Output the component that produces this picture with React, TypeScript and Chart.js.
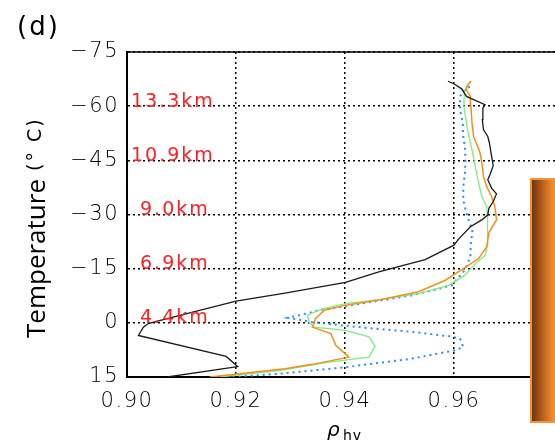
import React, { useEffect, useRef } from 'react';
import { Chart, registerables } from 'chart.js';

Chart.register(...registerables);

// ---- data ----
const xMin = 0.9;
const xMax = 0.98;
const xStep = 0.02;
const xLabelMax = 0.96;
const yMin = -75;
const yMax = 15;
const yStep = 15;

const altitudeLabels = ['13.3km', '10.9km', '9.0km', '6.9km', '4.4km'];
const altitudeTemps = [-60, -45, -30, -15, 0];

const blackTemp = [15, 12.1, 9.3, 3.5, 1.2, 0.2, -1.4, -6.0, -8.2, -11.2, -14.1, -17.5, -21.5, -23.1, -26.6, -28.5, -29.9, -31.7, -33.6, -35.7, -37.3, -39.6, -41.0, -43.5, -46.1, -49.8, -51.6, -53.5, -56.3, -59.5, -60.4, -61.8, -62.7, -64.8, -66.0, -66.9];
const blackRho = [0.9074, 0.9203, 0.9182, 0.9021, 0.903, 0.9039, 0.9079, 0.92, 0.929, 0.9401, 0.9462, 0.9547, 0.96, 0.9608, 0.963, 0.9651, 0.9662, 0.9664, 0.9672, 0.9678, 0.9669, 0.9662, 0.9666, 0.9672, 0.9669, 0.9665, 0.9662, 0.9654, 0.9652, 0.9653, 0.9657, 0.9636, 0.9623, 0.9614, 0.9602, 0.9589];

const orangeTemp = [15, 12.7, 11.5, 9.5, 6.2, 3.0, 1.2, -1.2, -3.5, -4.9, -6.3, -8.6, -11.8, -15.0, -17.8, -21.1, -25.0, -28.5, -32.2, -35.0, -37.7, -40.5, -43.3, -47.0, -49.3, -51.6, -55.3, -60.0, -62.7, -64.6, -66.0, -66.9];
const orangeRho = [0.9152, 0.929, 0.934, 0.9407, 0.9383, 0.9374, 0.934, 0.9346, 0.9362, 0.9401, 0.9462, 0.9535, 0.9584, 0.9617, 0.9645, 0.966, 0.9664, 0.9678, 0.9675, 0.9669, 0.966, 0.9654, 0.9652, 0.9648, 0.9642, 0.9636, 0.9633, 0.9631, 0.963, 0.9622, 0.9626, 0.9631];

const greenTemp = [15, 13.2, 10.9, 9.5, 6.5, 3.9, 2.1, 1.2, -0.2, -2.1, -3.9, -5.3, -6.4, -8.1, -10.4, -13.2, -16.4, -18.7, -22.0, -25.7, -29.4, -32.2, -35.0, -38.7, -43.3, -47.9, -52.6, -55.3, -60.0, -63.7, -65.5, -66.9];
const greenRho = [0.917, 0.9279, 0.9371, 0.9444, 0.9455, 0.9444, 0.9401, 0.9343, 0.9334, 0.9331, 0.9359, 0.9401, 0.9462, 0.9535, 0.959, 0.962, 0.9639, 0.9657, 0.9662, 0.9661, 0.9662, 0.966, 0.9651, 0.9645, 0.9639, 0.9633, 0.9626, 0.9623, 0.9618, 0.9619, 0.9623, 0.963];

const blueTemp = [15, 14.1, 12.3, 9.9, 7.6, 6.7, 4.4, 3.8, 2.5, 1.3, -0.2, -1.4, -2.1, -3.5, -5.1, -7.6, -10.4, -14.6, -18.3, -22.0, -25.7, -27.1, -30.3, -34.0, -37.7, -41.4, -45.1, -48.8, -51.6, -55.3, -59.0, -62.7, -64.6, -65.5];
const blueRho = [0.9194, 0.9279, 0.9401, 0.9523, 0.9602, 0.9617, 0.9611, 0.9596, 0.9523, 0.9432, 0.934, 0.9295, 0.9316, 0.9353, 0.942, 0.9523, 0.9596, 0.962, 0.963, 0.9631, 0.9634, 0.963, 0.9623, 0.9617, 0.9617, 0.962, 0.9621, 0.962, 0.9617, 0.9616, 0.9611, 0.9611, 0.962, 0.963];

const pts = (rho: number[], temp: number[]) => rho.map((x, i) => ({ x, y: temp[i] }));

const TICK_FONT = '"DejaVu Sans"';

const decoPlugin = {
  id: 'deco',
  beforeLayout(chart: any) {
    chart.ctx.letterSpacing = '1.5px';
  },
  beforeDraw(chart: any) {
    chart.ctx.letterSpacing = '1.5px';
  },
  afterDraw(chart: any) {
    const { ctx, chartArea, scales } = chart;
    ctx.save();
    ctx.setLineDash([]);
    // top frame line
    ctx.strokeStyle = '#000';
    ctx.lineWidth = 1.5;
    ctx.beginPath();
    ctx.moveTo(chartArea.left, chartArea.top);
    ctx.lineTo(chartArea.right, chartArea.top);
    ctx.stroke();

    // altitude labels
    ctx.fillStyle = '#ff1f1f';
    ctx.font = `19px ${TICK_FONT}`;
    ctx.letterSpacing = '2px';
    ctx.textAlign = 'left';
    ctx.textBaseline = 'alphabetic';
    altitudeLabels.forEach((t, i) => {
      const y = scales.y.getPixelForValue(altitudeTemps[i]);
      const x = chartArea.left + (i < 2 ? 4 : 13);
      ctx.fillText(t, x, y + 0.5);
    });

    // panel label
    ctx.fillStyle = '#000';
    ctx.font = `26px ${TICK_FONT}`;
    ctx.letterSpacing = '2px';
    ctx.fillText('(d)', 17, 35);

    // x title rho_hv
    ctx.letterSpacing = '0px';
    ctx.font = `oblique 20px ${TICK_FONT}`;
    ctx.fillText('ρ', 327, 436);
    ctx.font = `14px ${TICK_FONT}`;
    ctx.letterSpacing = '1px';
    ctx.fillText('hv', 343, 440);

    // y title
    ctx.save();
    ctx.translate(45, 338);
    ctx.rotate(-Math.PI / 2);
    ctx.letterSpacing = '0px';
    ctx.font = '26px "Open Sans"';
    ctx.fillText('Temperature', 0, 0);
    const w = ctx.measureText('Temperature').width;
    ctx.font = `19px ${TICK_FONT}`;
    ctx.letterSpacing = '2px';
    ctx.fillText('(° C)', w + 8, -4);
    ctx.restore();

    // orange box (cut legend)
    const bx = 530, by = 178, bw = 40, bh = 245;
    const g = ctx.createLinearGradient(bx, 0, bx + 30, 0);
    g.addColorStop(0, '#5e2d08');
    g.addColorStop(0.35, '#a9581a');
    g.addColorStop(0.75, '#ef8a2a');
    g.addColorStop(1, '#f7962e');
    ctx.fillStyle = g;
    ctx.fillRect(bx, by, bw, bh);
    ctx.strokeStyle = '#f5923a';
    ctx.lineWidth = 2;
    ctx.strokeRect(bx + 1, by + 1, bw, bh - 2);
    ctx.restore();
  },
};

export default function App() {
  const ref = useRef<HTMLCanvasElement>(null);
  useEffect(() => {
    if (!ref.current) return;
    const chart = new Chart(ref.current, {
      type: 'scatter',
      data: {
        datasets: [
          { data: pts(blackRho, blackTemp), showLine: true, borderColor: '#1a1a1a', borderWidth: 1.3, pointRadius: 0, tension: 0 },
          { data: pts(orangeRho, orangeTemp), showLine: true, borderColor: '#ff8c1a', borderWidth: 1.5, pointRadius: 0, tension: 0 },
          { data: pts(greenRho, greenTemp), showLine: true, borderColor: '#7fee7f', borderWidth: 1.3, pointRadius: 0, tension: 0 },
          { data: pts(blueRho, blueTemp), showLine: true, borderColor: '#2a8cff', borderWidth: 2, borderDash: [2, 4], pointRadius: 0, tension: 0 },
        ],
      },
      options: {
        responsive: false,
        animation: false,
        devicePixelRatio: 1,
        layout: { padding: { top: 52, right: 10, left: 0, bottom: 0 } },
        plugins: { legend: { display: false }, tooltip: { enabled: false } },
        scales: {
          x: {
            type: 'linear',
            position: 'bottom',
            min: xMin,
            max: xMax,
            afterFit: (s: any) => { s.height = 65; },
            ticks: {
              stepSize: xStep,
              callback: (v: any) => (Number(v) > xLabelMax + 0.001 ? '' : Number(v).toFixed(2)),
              font: { family: 'DejaVu Sans', size: 21, weight: '200' },
              color: '#000',
              padding: 12,
              maxRotation: 0,
              autoSkip: false,
            },
            grid: { color: '#000', lineWidth: 1.5, drawTicks: false },
            border: { color: '#000', width: 2, dash: [2, 3] },
          },
          y: {
            type: 'linear',
            min: yMin,
            max: yMax,
            reverse: true,
            afterFit: (s: any) => { s.width = 127; },
            ticks: {
              stepSize: yStep,
              callback: (v: any) => (Number(v) < 0 ? '−' + Math.abs(Number(v)) : String(v)),
              font: { family: 'DejaVu Sans', size: 21, weight: '200' },
              color: '#000',
              padding: 8,
              autoSkip: false,
            },
            grid: { color: '#000', lineWidth: 1.5, drawTicks: false },
            border: { color: '#000', width: 2, dash: [2, 3] },
          },
        },
      },
      plugins: [decoPlugin],
    } as any);
    return () => chart.destroy();
  }, []);
  return (
    <div style={{ position: 'fixed', left: 0, top: 0, width: 555, height: 442, overflow: 'hidden', background: '#fff' }}>
      <canvas ref={ref} width={575} height={442} style={{ display: 'block' }} />
    </div>
  );
}
